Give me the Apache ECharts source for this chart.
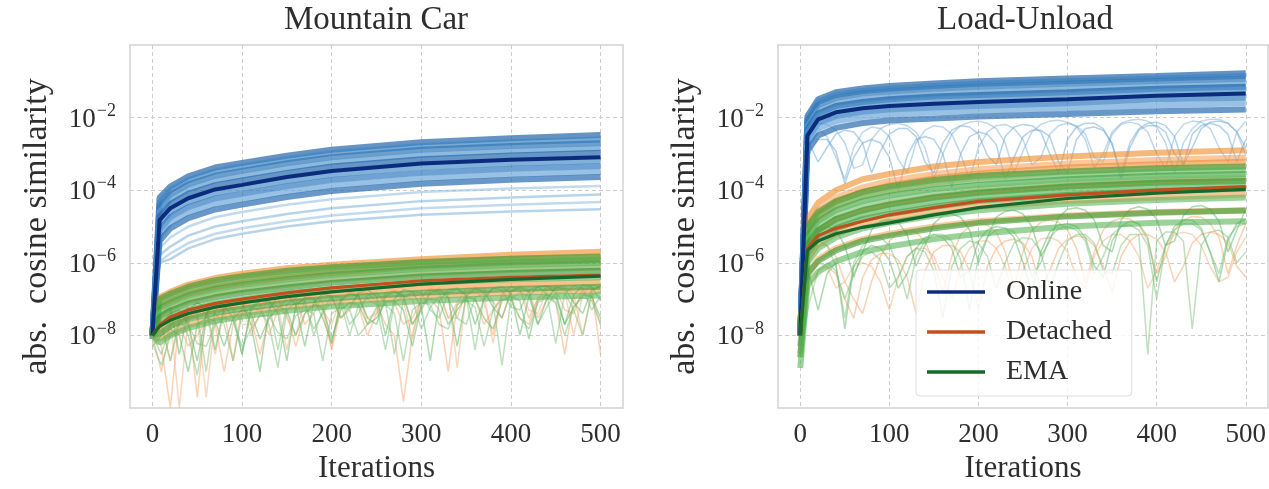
<!DOCTYPE html>
<html><head><meta charset="utf-8">
<script src="https://cdn.jsdelivr.net/npm/echarts@6/dist/echarts.min.js"></script>
<style>html,body{margin:0;padding:0;background:#fff}#c{width:1269px;height:489px}</style>
</head><body><div id="c"></div>
<script>
// ---------- axes / ticks ----------
const PANEL_TITLES = ['Mountain Car', 'Load-Unload'];
const X_TICKS = [0, 100, 200, 300, 400, 500];
const Y_TICKS = [1e-8, 1e-6, 1e-4, 1e-2];
const LEGEND_NAMES = ['Online', 'Detached', 'EMA'];

// iteration grids
const X_SMOOTH = [0, 8, 20, 40, 70, 100, 150, 200, 300, 400, 500];
const X_JAG = [0,10,20,30,40,50,60,70,80,90,100,110,120,130,140,150,160,170,180,190,200,210,220,230,240,250,260,270,280,290,300,310,320,330,340,350,360,370,380,390,400,410,420,430,440,450,460,470,480,490,500];

// ---------- Mountain Car ----------
const MC_ONLINE_MEAN = [1e-8, 1.5e-5, 3.2e-5, 6e-5, 1.05e-4, 1.4e-4, 2.3e-4, 3.4e-4, 5.4e-4, 6.9e-4, 8.1e-4];
const MC_DET_MEAN = [1e-8, 1.95e-8, 3.2e-8, 5e-8, 7.6e-8, 1e-7, 1.48e-7, 2.04e-7, 3.2e-7, 4e-7, 4.6e-7];
const MC_EMA_MEAN = [1e-8, 1.78e-8, 2.6e-8, 4e-8, 6e-8, 7.9e-8, 1.17e-7, 1.58e-7, 2.6e-7, 3.5e-7, 4.3e-7];

const MC_ONLINE_BAND = [
  [1e-8, 6.3e-5, 1.26e-4, 2.4e-4, 4.2e-4, 5.6e-4, 8.9e-4, 1.3e-3, 2.1e-3, 2.7e-3, 3.3e-3],
  [1e-8, 4.5e-5, 1e-4, 1.9e-4, 3.3e-4, 4.5e-4, 7.1e-4, 1.05e-3, 1.66e-3, 2.1e-3, 2.5e-3],
  [8e-9, 3.5e-5, 7.6e-5, 1.45e-4, 2.5e-4, 3.4e-4, 5.5e-4, 8.1e-4, 1.3e-3, 1.66e-3, 1.95e-3],
  [1e-8, 2.5e-5, 5.6e-5, 1.07e-4, 1.86e-4, 2.5e-4, 4.1e-4, 6e-4, 9.5e-4, 1.23e-3, 1.45e-3],
  [1e-8, 1.9e-5, 4.2e-5, 7.9e-5, 1.38e-4, 1.86e-4, 3e-4, 4.5e-4, 7.1e-4, 9.1e-4, 1.07e-3],
  [1e-8, 1.12e-5, 2.5e-5, 4.8e-5, 8.3e-5, 1.12e-4, 1.82e-4, 2.7e-4, 4.3e-4, 5.5e-4, 6.5e-4],
  [1e-8, 7.9e-6, 1.8e-5, 3.4e-5, 5.9e-5, 7.9e-5, 1.29e-4, 1.9e-4, 3e-4, 3.9e-4, 4.6e-4],
  [1e-8, 5.6e-6, 1.26e-5, 2.4e-5, 4.2e-5, 5.6e-5, 9.1e-5, 1.35e-4, 2.1e-4, 2.75e-4, 3.2e-4],
  [1e-8, 4e-6, 8.9e-6, 1.7e-5, 2.95e-5, 4e-5, 6.5e-5, 9.5e-5, 1.5e-4, 1.95e-4, 2.3e-4]
];
const MC_ONLINE_FAINT = [
  [1e-8, 2.5e-6, 5e-6, 1e-5, 1.8e-5, 2.5e-5, 4e-5, 5.6e-5, 8.9e-5, 1.12e-4, 1.3e-4],
  [1e-8, 1.6e-6, 2.8e-6, 5.6e-6, 1e-5, 1.4e-5, 2.2e-5, 3.2e-5, 5e-5, 6.3e-5, 7.6e-5],
  [1e-8, 1.1e-6, 1.8e-6, 3.5e-6, 6.3e-6, 8.9e-6, 1.4e-5, 2e-5, 3.2e-5, 4e-5, 4.7e-5],
  [1e-8, 1e-6, 1.26e-6, 2.5e-6, 4.5e-6, 6.3e-6, 1e-5, 1.4e-5, 2.1e-5, 2.6e-5, 3e-5]
];
const MC_DET_BAND = [
  [1e-8, 1.12e-7, 1.58e-7, 2.5e-7, 3.8e-7, 5e-7, 7.1e-7, 8.9e-7, 1.26e-6, 1.66e-6, 2e-6],
  [1e-8, 8.4e-8, 1.2e-7, 1.9e-7, 2.8e-7, 3.7e-7, 5.3e-7, 6.8e-7, 1e-6, 1.3e-6, 1.5e-6],
  [1e-8, 6.3e-8, 8.9e-8, 1.4e-7, 2.1e-7, 2.8e-7, 4e-7, 5.2e-7, 7.9e-7, 1e-6, 1.17e-6],
  [1e-8, 3.5e-8, 5.6e-8, 8.9e-8, 1.35e-7, 1.8e-7, 2.5e-7, 3.4e-7, 5e-7, 6.3e-7, 7.4e-7],
  [1e-8, 1.26e-8, 2e-8, 3.2e-8, 5e-8, 6.6e-8, 1e-7, 1.32e-7, 2e-7, 2.5e-7, 2.8e-7],
  [1e-8, 7.9e-9, 1.1e-8, 1.9e-8, 3e-8, 4e-8, 6e-8, 7.9e-8, 1.2e-7, 1.5e-7, 1.74e-7]
];
const MC_EMA_BAND = [
  [1e-8, 1e-7, 1.4e-7, 2.2e-7, 3.3e-7, 4.3e-7, 6e-7, 7.6e-7, 1.05e-6, 1.3e-6, 1.5e-6],
  [1e-8, 7.5e-8, 1.05e-7, 1.65e-7, 2.5e-7, 3.3e-7, 4.6e-7, 6e-7, 8.5e-7, 1.07e-6, 1.22e-6],
  [1e-8, 5.6e-8, 7.9e-8, 1.26e-7, 1.9e-7, 2.5e-7, 3.5e-7, 4.7e-7, 6.9e-7, 8.7e-7, 1e-6],
  [1e-8, 4.2e-8, 6.2e-8, 9.8e-8, 1.45e-7, 1.9e-7, 2.7e-7, 3.6e-7, 5.4e-7, 6.7e-7, 7.7e-7],
  [1e-8, 3.2e-8, 4.8e-8, 7.6e-8, 1.12e-7, 1.48e-7, 2.1e-7, 2.8e-7, 4.2e-7, 5.2e-7, 6e-7],
  [1e-8, 2e-8, 3.2e-8, 5e-8, 7.6e-8, 1e-7, 1.45e-7, 1.9e-7, 2.8e-7, 3.5e-7, 4e-7],
  [1e-8, 1.1e-8, 1.8e-8, 2.8e-8, 4.2e-8, 5.4e-8, 7.9e-8, 1.05e-7, 1.5e-7, 1.9e-7, 2.2e-7],
  [1e-8, 6.3e-9, 1e-8, 1.6e-8, 2.5e-8, 3.3e-8, 4.8e-8, 6.3e-8, 8.9e-8, 1.1e-7, 1.26e-7]
];
const MC_DET_JAG = [
  [1e-8,5e-9,1e-10,3e-8,4e-8,2e-10,4e-8,7e-8,5e-8,2e-9, 6e-8,1e-7,8e-8,1e-8,5e-8,1.1e-7,1e-7,2e-8,4e-8,1.3e-7, 1.2e-7,3e-8,5e-8,1.4e-7,1.5e-7,8e-8,2e-8,1e-8,1.5e-10,1e-8, 1.2e-7,1.8e-7,1.5e-7,3e-8,8e-8,2e-7,2e-7,8e-8,1e-8,1.5e-7, 2.2e-7,1.8e-7,3e-8,1e-7,2.3e-7,2e-7,5e-8,4e-8,2e-7,2e-7, 3e-9],
  [6e-9,2e-8,3e-8,1e-10,3e-8,6e-8,4e-8,3e-9,5e-8,9e-8, 8e-8,1e-8,4e-8,1e-7,1e-7,3e-8,1e-8,1e-7,1.4e-7,8e-8, 5e-9,9e-8,1.6e-7,1.3e-7,2e-8,5e-8,1.5e-7,1.7e-7,9e-8,8e-9, 1.2e-7,2e-7,1.6e-7,3e-8,3e-8,1.6e-7,2.1e-7,1.4e-7,6e-9,1.3e-7, 2.2e-7,2e-7,5e-8,4e-8,1.8e-7,2.4e-7,1.6e-7,1e-8,1.3e-7,2.5e-7, 2e-7],
  [1e-8,1e-9,1.5e-8,2e-8,5e-9,1e-8,2.5e-8,2e-8,1e-9,2e-8, 4e-8,3e-8,3e-9,3e-8,5e-8,4e-8,5e-9,4e-8,7e-8,5e-8, 4e-9,5e-8,8e-8,6e-8,1e-8,4e-8,9e-8,8e-8,2e-8,3e-8, 9e-8,1e-7,5e-8,1e-9,7e-8,1.2e-7,1e-7,2e-8,5e-8,1.2e-7, 1.1e-7,3e-8,2e-8,1.1e-7,1.4e-7,8e-8,3e-9,1e-7,1.5e-7,1.2e-7, 2e-8],
  [1e-8,2e-8,2e-9,2e-8,4e-8,3e-8,2e-10,3e-8,6e-8,6e-8, 2e-8,2e-8,7e-8,9e-8,6e-8,4e-9,6e-8,1.1e-7,1.1e-7,5e-8, 2e-8,1e-7,1.5e-7,1.3e-7,3e-8,4e-8,1.4e-7,1.8e-7,1.3e-7,2e-8, 6e-8,1.7e-7,2e-7,1.4e-7,1.3e-9,1.3e-7,2.1e-7,2e-7,9e-8,3e-8, 1.7e-7,2.3e-7,1.8e-7,3e-8,1e-7,2.2e-7,2.3e-7,1.3e-7,1e-8,1.6e-7, 2.4e-7]
];
const MC_EMA_JAG = [
  [1e-8,4e-8,6e-8,3e-9,5e-8,8e-8,6e-8,4e-9,6e-8,1e-7, 8e-8,2e-8,1e-9,5e-8,1.2e-7,1.3e-7,7e-8,5e-9,8e-8,1.4e-7, 1.2e-7,3e-8,6e-8,1.5e-7,1.8e-7,1.2e-7,1e-8,1e-7,1.8e-7,1.6e-7, 6e-8,2e-9,9e-8,1.8e-7,2e-7,1.3e-7,2e-8,1e-7,2e-7,2.2e-7, 1.4e-7,1e-8,1.2e-7,2.2e-7,2.3e-7,1.5e-7,2e-8,1.3e-7,2.4e-7,2.2e-7, 9e-8],
  [8e-9,2e-8,2e-9,3e-8,6e-8,4e-8,1e-9,5e-8,8e-8,5e-8, 3e-9,6e-8,1e-7,8e-8,4e-9,7e-8,1.1e-7,9e-8,1e-8,5e-8, 1.2e-7,1.1e-7,2e-8,4e-8,1.3e-7,1.5e-7,8e-8,3e-9,1e-7,1.6e-7, 1.5e-7,5e-8,3e-8,1.5e-7,1.9e-7,1.2e-7,4e-9,1.2e-7,2e-7,1.8e-7, 6e-8,5e-8,1.8e-7,2.2e-7,1.4e-7,6e-9,1.4e-7,2.3e-7,2e-7,5e-8, 1.2e-7],
  [5e-9,1e-8,1.5e-8,1e-8,1e-9,2e-8,3e-8,2.5e-8,5e-9,3e-8, 5e-8,4e-8,8e-9,3e-8,6e-8,5e-8,1e-8,4e-8,7e-8,6e-8, 8e-9,5e-8,8e-8,7e-8,2e-8,3e-8,8e-8,9e-8,5e-8,5e-9, 7e-8,1e-7,9e-8,2e-8,5e-8,1.1e-7,1e-7,3e-8,1.5e-8,9e-8, 1.2e-7,9e-8,8e-9,9e-8,1.3e-7,1.1e-7,2e-8,6e-8,1.3e-7,1.2e-7, 3e-8],
  [1e-8,3e-9,2e-8,3e-8,1e-8,8e-10,2.5e-8,4e-8,2e-8,2e-9, 4e-8,6e-8,5e-8,2e-8,1.3e-9,5e-8,8e-8,7e-8,1.5e-8,4e-8, 9e-8,8e-8,1e-8,7e-8,1e-7,7e-8,4e-9,8e-8,1.2e-7,1e-7, 1.5e-8,6e-8,1.2e-7,1.1e-7,3e-8,2e-8,1.1e-7,1.4e-7,8e-8,1.5e-9, 1e-7,1.5e-7,1.2e-7,2e-8,6e-8,1.5e-7,1.5e-7,5e-8,1e-8,1.3e-7, 1.6e-7],
  [1e-8,2e-8,4e-8,5e-8,2e-8,2e-9,4e-8,7e-8,7e-8,3e-8, 3e-9,5e-8,9e-8,9e-8,4e-8,2e-9,7e-8,1.1e-7,1e-7,3e-8, 6e-9,9e-8,1.4e-7,1.2e-7,3e-8,2e-8,1.2e-7,1.6e-7,1.2e-7,2e-8, 5e-8,1.5e-7,1.8e-7,1.1e-7,5e-9,1.2e-7,1.9e-7,1.7e-7,6e-8,3e-8, 1.6e-7,2.1e-7,1.6e-7,2e-8,1e-7,2.1e-7,2e-7,8e-8,4e-8,1.8e-7, 2.3e-7],
  [6e-9,1.5e-9,1e-8,2e-8,2e-8,6e-9,5e-9,2e-8,3e-8,2.5e-8, 5e-9,1.5e-8,3.5e-8,3.5e-8,1.2e-8,8e-9,3.5e-8,5e-8,4e-8,2e-9, 4e-8,6e-8,5e-8,1e-8,2e-8,6e-8,7e-8,4e-8,2e-9,5e-8, 8e-8,7e-8,2e-8,1.5e-8,7e-8,9e-8,6e-8,5e-9,5e-8,1e-7, 9e-8,3e-8,1.5e-8,8e-8,1.1e-7,8e-8,1e-8,6e-8,1.1e-7,9e-8, 2e-8]
];

// ---------- Load-Unload ----------
const LU_ONLINE_MEAN = [1e-8, 3.2e-3, 8.9e-3, 1.4e-2, 1.8e-2, 2.1e-2, 2.4e-2, 2.7e-2, 3.2e-2, 4e-2, 4.6e-2];
const LU_DET_MEAN = [1e-8, 2.5e-6, 5.6e-6, 8.9e-6, 1.4e-5, 2.1e-5, 3.3e-5, 4.9e-5, 7.4e-5, 1e-4, 1.26e-4];
const LU_EMA_MEAN = [1e-8, 2.2e-6, 4e-6, 6.3e-6, 9.5e-6, 1.26e-5, 2.1e-5, 3.3e-5, 5.9e-5, 8.3e-5, 1.05e-4];

const LU_ONLINE_BAND = [
  [1e-8, 1.1e-2, 3.2e-2, 5e-2, 6.3e-2, 7.4e-2, 8.7e-2, 0.1, 0.12, 0.14, 0.166],
  [1e-8, 9e-3, 2.7e-2, 4.2e-2, 5.4e-2, 6.2e-2, 7.4e-2, 8.5e-2, 0.1, 0.12, 0.14],
  [1e-8, 7.9e-3, 2.2e-2, 3.5e-2, 4.6e-2, 5.2e-2, 6.2e-2, 7.1e-2, 8.5e-2, 0.102, 0.117],
  [1e-8, 5.6e-3, 1.6e-2, 2.5e-2, 3.2e-2, 3.7e-2, 4.4e-2, 5e-2, 6e-2, 7.4e-2, 8.5e-2],
  [1e-8, 4.7e-3, 1.3e-2, 2.1e-2, 2.7e-2, 3.2e-2, 3.8e-2, 4.2e-2, 5e-2, 6.2e-2, 7.1e-2],
  [1e-8, 4e-3, 1.1e-2, 1.8e-2, 2.3e-2, 2.7e-2, 3.2e-2, 3.5e-2, 4.2e-2, 5.2e-2, 6e-2],
  [1e-8, 2.5e-3, 7.1e-3, 1.1e-2, 1.45e-2, 1.66e-2, 1.9e-2, 2.1e-2, 2.5e-2, 3.2e-2, 3.5e-2],
  [1e-8, 1.8e-3, 5e-3, 7.9e-3, 1.05e-2, 1.2e-2, 1.4e-2, 1.55e-2, 1.8e-2, 2.2e-2, 2.5e-2],
  [1e-8, 1.26e-3, 3.2e-3, 5.2e-3, 7.1e-3, 8.3e-3, 9.5e-3, 1.07e-2, 1.26e-2, 1.5e-2, 1.66e-2]
];
const LU_ONLINE_JAG = [
  [1e-8,4e-3,5e-3,3e-3,8e-4,2e-4,1.5e-3,4e-3,5.5e-3,5e-3, 3e-3,7e-4,3e-4,2e-3,4.5e-3,6e-3,5.5e-3,3.5e-3,1e-3,2e-4, 1.5e-3,4e-3,6e-3,6.5e-3,5e-3,2.5e-3,5e-4,8e-4,3.5e-3,6e-3, 7e-3,6e-3,3.5e-3,8e-4,6e-4,3.5e-3,6.5e-3,7.5e-3,6.5e-3,4e-3, 1e-3,4e-4,3e-3,6.5e-3,8e-3,7.5e-3,5e-3,1.5e-3,6e-4,4e-3, 8e-3],
  [1e-8,2e-3,6e-4,1.5e-3,3.5e-3,4.5e-3,4e-3,2e-3,3e-4,1.2e-3, 3.5e-3,5e-3,5e-3,3e-3,6e-4,3e-4,2e-3,4.5e-3,6e-3,5.5e-3, 3.5e-3,9e-4,5e-4,3e-3,5.5e-3,6.5e-3,6e-3,4e-3,1e-3,3e-4, 2.5e-3,5.5e-3,7e-3,7e-3,5e-3,1.8e-3,3e-4,2e-3,5e-3,7e-3, 7.5e-3,6e-3,3e-3,5e-4,1.5e-3,5e-3,7.5e-3,8e-3,7e-3,4e-3, 1.5e-3],
  [1e-8,5e-3,7e-3,6.5e-3,4.5e-3,2e-3,4e-4,5e-4,2.5e-3,5e-3, 6.5e-3,7e-3,6e-3,4e-3,1.5e-3,2e-4,1e-3,3.5e-3,6e-3,7.5e-3, 8e-3,7e-3,5e-3,2e-3,3e-4,1.2e-3,4e-3,6.5e-3,8e-3,8.5e-3, 7.5e-3,5.5e-3,2.5e-3,4e-4,1e-3,4e-3,7e-3,8.5e-3,9e-3,8e-3, 5.5e-3,2e-3,3e-4,2e-3,5e-3,8e-3,9e-3,9e-3,7e-3,4e-3, 9e-4],
  [1e-8,1e-3,2.5e-3,2.5e-3,1.2e-3,1.5e-4,8e-4,2e-3,2.5e-3,2e-3, 8e-4,1e-4,9e-4,2.5e-3,3e-3,2.5e-3,1e-3,1.2e-4,1e-3,3e-3, 4e-3,3.5e-3,1.8e-3,2e-4,8e-4,3e-3,4.5e-3,4.5e-3,3e-3,6e-4, 3e-4,2.5e-3,5e-3,5.5e-3,4.5e-3,2e-3,2e-4,1.5e-3,4.5e-3,6e-3, 6e-3,4e-3,1e-3,5e-4,3.5e-3,6e-3,7e-3,6e-3,3.5e-3,6e-4, 2.5e-3]
];
const LU_DET_BAND = [
  [1e-8, 1.6e-5, 4.5e-5, 1e-4, 2e-4, 2.8e-4, 4.5e-4, 6e-4, 8.5e-4, 1.07e-3, 1.26e-3],
  [1e-8, 1e-5, 2.8e-5, 6.3e-5, 1.2e-4, 1.8e-4, 2.8e-4, 3.8e-4, 5.4e-4, 6.8e-4, 7.9e-4],
  [1e-8, 8e-6, 2.1e-5, 4.7e-5, 9e-5, 1.35e-4, 2.1e-4, 2.9e-4, 4.2e-4, 5.2e-4, 6.1e-4],
  [1e-8, 6.3e-6, 1.6e-5, 3.5e-5, 6.8e-5, 1e-4, 1.6e-4, 2.2e-4, 3.2e-4, 4e-4, 4.7e-4],
  [1e-8, 3.2e-6, 7.9e-6, 1.6e-5, 2.8e-5, 4.2e-5, 6.6e-5, 9.1e-5, 1.35e-4, 1.74e-4, 2e-4],
  [1e-8, 1.26e-6, 3.2e-6, 6.3e-6, 1.1e-5, 1.6e-5, 2.5e-5, 3.5e-5, 5e-5, 6.3e-5, 7.6e-5],
  [3.2e-9, 5e-7, 1.26e-6, 2.5e-6, 4.5e-6, 6.3e-6, 1e-5, 1.4e-5, 2e-5, 2.5e-5, 2.8e-5]
];
const LU_EMA_BAND = [
  [1e-8, 1e-5, 2.5e-5, 5e-5, 8.9e-5, 1.26e-4, 1.9e-4, 2.5e-4, 3.3e-4, 4e-4, 4.5e-4],
  [1e-8, 7.5e-6, 1.9e-5, 3.8e-5, 6.7e-5, 9.5e-5, 1.45e-4, 1.9e-4, 2.6e-4, 3.2e-4, 3.6e-4],
  [1e-8, 5.6e-6, 1.4e-5, 2.8e-5, 5e-5, 7.1e-5, 1.07e-4, 1.4e-4, 2e-4, 2.5e-4, 2.8e-4],
  [1e-8, 4.2e-6, 1.05e-5, 2.1e-5, 3.8e-5, 5.3e-5, 8.2e-5, 1.1e-4, 1.6e-4, 2e-4, 2.25e-4],
  [1e-8, 3.2e-6, 7.9e-6, 1.6e-5, 2.8e-5, 4e-5, 6.3e-5, 8.5e-5, 1.26e-4, 1.6e-4, 1.8e-4],
  [1e-8, 2.4e-6, 6e-6, 1.2e-5, 2.1e-5, 3e-5, 4.7e-5, 6.5e-5, 9.6e-5, 1.25e-4, 1.4e-4],
  [1e-8, 1.8e-6, 4.5e-6, 8.9e-6, 1.6e-5, 2.2e-5, 3.5e-5, 5e-5, 7.4e-5, 9.5e-5, 1.1e-4],
  [5e-9, 1e-6, 2.5e-6, 5e-6, 8.9e-6, 1.26e-5, 2e-5, 2.8e-5, 4.2e-5, 5.4e-5, 6.3e-5],
  [2.5e-9, 5e-7, 1.1e-6, 2.2e-6, 4e-6, 5.6e-6, 8.9e-6, 1.26e-5, 1.9e-5, 2.4e-5, 2.75e-5],
  [1.26e-9, 2.5e-7, 5.6e-7, 1.1e-6, 2e-6, 2.8e-6, 4.5e-6, 6.3e-6, 1e-5, 1.26e-5, 1.4e-5]
];
const LU_DET_JAG = [
  [1e-8,1e-6,3e-6,3e-6,1.5e-6,3e-7,1e-7,4e-8,3e-7,1.5e-6, 4e-6,7e-6,8e-6,7e-6,4e-6,1e-6,1.5e-7,1.5e-6,6e-6,1e-5, 1.2e-5,1.1e-5,7e-6,2e-6,2e-7,2e-6,8e-6,1.3e-5,1.5e-5,1.3e-5, 8e-6,2.5e-6,3e-7,2e-6,8e-6,1.4e-5,1.7e-5,1.6e-5,1.1e-5,4e-6, 5e-7,1.5e-6,8e-6,1.5e-5,1.9e-5,1.8e-5,1.2e-5,5e-6,5e-7,3e-6, 1.2e-5],
  [6e-9,4e-7,1e-6,8e-7,2e-7,3e-7,8e-7,1e-6,8e-7,3e-7, 5e-8,4e-7,1.5e-6,2.5e-6,2.5e-6,1.5e-6,4e-7,1e-7,8e-7,2.5e-6, 4e-6,4e-6,2.5e-6,8e-7,1e-7,6e-7,2.5e-6,4.5e-6,5e-6,4e-6, 2e-6,4e-7,2e-7,1.5e-6,4e-6,6e-6,6e-6,4e-6,1.5e-6,2e-7, 6e-7,3e-6,6e-6,7e-6,6e-6,3e-6,8e-7,3e-7,4e-7,2e-6, 5e-6],
  [5e-9,2e-7,6e-7,8e-7,5e-7,1e-7,3e-8,4e-7,1.2e-6,1.8e-6, 1.8e-6,1.2e-6,4e-7,4e-8,6e-7,2e-6,3e-6,3e-6,2e-6,6e-7, 5e-8,8e-7,2.5e-6,4e-6,4.5e-6,3.5e-6,1.5e-6,2e-7,6e-7,2.5e-6, 4.5e-6,5.5e-6,5e-6,3e-6,8e-7,1.5e-7,1.5e-6,4e-6,6e-6,6e-6, 4.5e-6,2e-6,3e-7,8e-7,3.5e-6,6e-6,7e-6,6e-6,3.5e-6,8e-7, 4e-7]
];
const LU_EMA_JAG = [
  [1e-8,5e-7,5e-8,5e-7,1e-6,1.5e-8,8e-7,2e-6,3e-6,2.5e-6, 1.2e-6,2e-7,5e-7,2.5e-6,5e-6,6e-6,5e-6,2.5e-6,4e-7,6e-7, 4e-6,8e-6,1e-5,9e-6,5e-6,1e-6,1.5e-7,2e-6,7e-6,1.1e-5, 1.2e-5,1e-5,5e-6,8e-7,4e-7,4e-6,1e-5,1.4e-5,1.2e-5,5e-6, 3e-7,3e-6,1e-5,1.5e-5,1.5e-5,9e-6,2e-6,3e-7,4e-6,1.2e-5, 1.6e-5],
  [3e-9,8e-8,6e-7,1e-6,6e-7,1e-7,5e-7,1.5e-6,2e-6,1.2e-6, 2e-7,4e-7,1.5e-6,2.5e-6,2e-6,6e-7,3e-8,8e-7,2.5e-6,4e-6, 3.5e-6,1.5e-6,2e-7,1e-6,3.5e-6,5e-6,4.5e-6,2e-6,2e-7,1e-6, 4e-6,6e-6,6e-6,3.5e-6,6e-7,5e-7,3e-6,6e-6,6e-6,3e-9, 4e-6,7e-6,7e-6,4e-6,1.5e-8,3e-6,7e-6,8e-6,5e-6,1e-6, 2e-6],
  [1e-8,3e-6,8e-6,1e-5,8e-6,3e-6,4e-7,2e-6,8e-6,1.4e-5, 1.6e-5,1.3e-5,6e-6,8e-7,3e-6,1.2e-5,2e-5,2.2e-5,1.8e-5,8e-6, 1e-6,5e-6,1.8e-5,2.6e-5,2.8e-5,2.2e-5,1e-5,1.5e-6,4e-6,1.8e-5, 3e-5,3.3e-5,2.8e-5,1.5e-5,3e-6,2e-6,1.5e-5,3e-5,3.5e-5,3e-5, 1.6e-5,3e-6,4e-6,2e-5,3.5e-5,3.8e-5,3e-5,1.4e-5,2e-6,8e-6, 3e-5],
  [8e-9,2e-6,4e-6,3e-6,8e-7,3e-8,1e-6,3e-6,5e-6,5e-6, 3e-6,8e-7,1e-7,1.5e-6,4e-6,6e-6,6e-6,4e-6,1.2e-6,5e-8, 1.5e-6,5e-6,8e-6,9e-6,7e-6,3e-6,4e-7,1e-6,5e-6,9e-6, 1e-5,8e-6,4e-6,5e-7,1.5e-6,6e-6,1e-5,1.1e-5,8e-6,3e-6, 1e-7,3e-6,8e-6,1.2e-5,1.2e-5,8e-6,2e-6,5e-7,5e-6,1e-5, 1.2e-5]
];

// ---------- styling ----------
const FONT = '"Liberation Serif", "DejaVu Serif", serif';
const TXT = '#2e2e2e';
const C_ONLINE = '#0b2b7c', C_DET = '#c0501e', C_EMA = '#17692b';
const BLUE_BAND = ['#2565a8','#3f86c5','#2f76b8','#5c9bd0','#2369ae','#4c8ec9','#327ac0','#6ea6d8','#2a6cb0'];
const ORANGE_BAND = ['#f08a24','#f7a35a','#ee8a30','#f9b77a','#f5983e','#f3a050','#f7a860'];
const GREEN_BAND = ['#2f9a2f','#56b456','#3aa23a','#6cbf6c','#2c922c','#4aad4a','#3d9f3d','#5ab55a'];

function runs(list, xs, gi, colors, width, opacity, tag) {
  return list.map((vals, k) => ({
    type: 'line', name: tag + '-' + k, xAxisIndex: gi, yAxisIndex: gi,
    data: xs.map((x, i) => [x, vals[i]]),
    symbol: 'none', showSymbol: false, silent: true, animation: false, z: 2,
    lineStyle: { color: colors[k % colors.length], width: width, opacity: opacity }
  }));
}
function mean(name, vals, gi, color, width) {
  return {
    type: 'line', name: name, xAxisIndex: gi, yAxisIndex: gi,
    data: X_SMOOTH.map((x, i) => [x, vals[i]]),
    symbol: 'none', showSymbol: false, silent: true, animation: false, z: 5,
    color: color, itemStyle: { color: color },
    lineStyle: { color: color, width: width }
  };
}

const series = [];
const panels = [
  { on: MC_ONLINE_BAND, onF: MC_ONLINE_FAINT, onJ: null, dB: MC_DET_BAND, dJ: MC_DET_JAG, eB: MC_EMA_BAND, eJ: MC_EMA_JAG, mO: MC_ONLINE_MEAN, mD: MC_DET_MEAN, mE: MC_EMA_MEAN },
  { on: LU_ONLINE_BAND, onF: null, onJ: LU_ONLINE_JAG, dB: LU_DET_BAND, dJ: LU_DET_JAG, eB: LU_EMA_BAND, eJ: LU_EMA_JAG, mO: LU_ONLINE_MEAN, mD: LU_DET_MEAN, mE: LU_EMA_MEAN }
];
panels.forEach((p, gi) => {
  if (p.onF) series.push(...runs(p.onF, X_SMOOTH, gi, ['#8fbbe0', '#7eb0da'], 2.5, 0.55, 'of' + gi));
  if (p.onJ) series.push(...runs(p.onJ, X_JAG, gi, ['#7fb2da', '#6aa5d6'], 1.5, 0.5, 'oj' + gi));
  series.push(...runs(p.on, X_SMOOTH, gi, BLUE_BAND, 6, 0.7, 'ob' + gi));
  series.push(...runs(p.dJ, X_JAG, gi, ['#f6a56a', '#f3b27f'], 1.5, 0.5, 'dj' + gi));
  series.push(...runs(p.dB, X_SMOOTH, gi, ORANGE_BAND, 6, 0.6, 'db' + gi));
  series.push(...runs(p.eJ, X_JAG, gi, ['#5fb35f', '#7cc27c'], 1.5, 0.5, 'ej' + gi));
  series.push(...runs(p.eB, X_SMOOTH, gi, GREEN_BAND, 6, 0.6, 'eb' + gi));
  series.push(mean('Online', p.mO, gi, C_ONLINE, 4));
  series.push(mean('Detached', p.mD, gi, C_DET, 3.2));
  series.push(mean('EMA', p.mE, gi, C_EMA, 3.2));
});

const GRIDS = [
  { left: 130, top: 45, width: 493, height: 365 },
  { left: 778, top: 45, width: 495, height: 365 }
];
const TITLE_X = [376, 1025];

const dash = { type: [4, 3], color: '#cccccc', width: 1 };
const option = {
  animation: false,
  backgroundColor: '#ffffff',
  title: PANEL_TITLES.map((t, i) => ({
    text: t, left: TITLE_X[i], top: 4, textAlign: 'center', padding: 0,
    textStyle: { fontFamily: FONT, fontSize: 33, fontWeight: 'normal', color: TXT }
  })),
  grid: GRIDS.map(g => Object.assign({ show: true, borderColor: '#d2d2d2', borderWidth: 1.5, backgroundColor: 'transparent' }, g)),
  xAxis: GRIDS.map((g, i) => ({
    type: 'value', gridIndex: i, min: -25, max: 525,
    axisLine: { show: false },
    axisTick: { show: false, customValues: X_TICKS },
    axisLabel: { customValues: X_TICKS, fontFamily: FONT, fontSize: 27, color: TXT, margin: 13 },
    splitLine: { show: true, lineStyle: dash },
    name: 'Iterations', nameLocation: 'middle', nameGap: 45,
    nameTextStyle: { fontFamily: FONT, fontSize: 31, color: TXT }
  })),
  yAxis: GRIDS.map((g, i) => ({
    type: 'log', logBase: 10, gridIndex: i, min: 1e-10, max: 1,
    axisLine: { show: false },
    axisTick: { show: false, customValues: Y_TICKS },
    axisLabel: {
      customValues: Y_TICKS, margin: 14, color: TXT,
      formatter: v => '{b|10}{s|\u2212' + Math.abs(Math.round(Math.log10(v))) + '}',
      rich: {
        b: { fontFamily: FONT, fontSize: 27, color: TXT, verticalAlign: 'bottom' },
        s: { fontFamily: FONT, fontSize: 18, color: TXT, verticalAlign: 'bottom', padding: [0, 0, 13, 1] }
      }
    },
    splitLine: { show: true, lineStyle: dash },
    name: 'abs.  cosine similarity', nameLocation: 'middle', nameGap: 76,
    nameTextStyle: { fontFamily: FONT, fontSize: 34, color: TXT }
  })),
  legend: {
    data: LEGEND_NAMES, orient: 'vertical', left: 916, top: 270,
    icon: 'rect', itemWidth: 58, itemHeight: 3.5, itemGap: 12,
    padding: [8, 20, 10, 11], selectedMode: false,
    backgroundColor: 'rgba(255,255,255,0.8)', borderColor: '#dedede', borderWidth: 1, borderRadius: 4,
    textStyle: { fontFamily: FONT, fontSize: 28, color: TXT, lineHeight: 28, padding: [0, 0, 0, 16] }
  },
  series: series
};

const chart = echarts.init(document.getElementById('c'), null, { renderer: 'canvas' });
chart.setOption(option);
</script></body></html>
